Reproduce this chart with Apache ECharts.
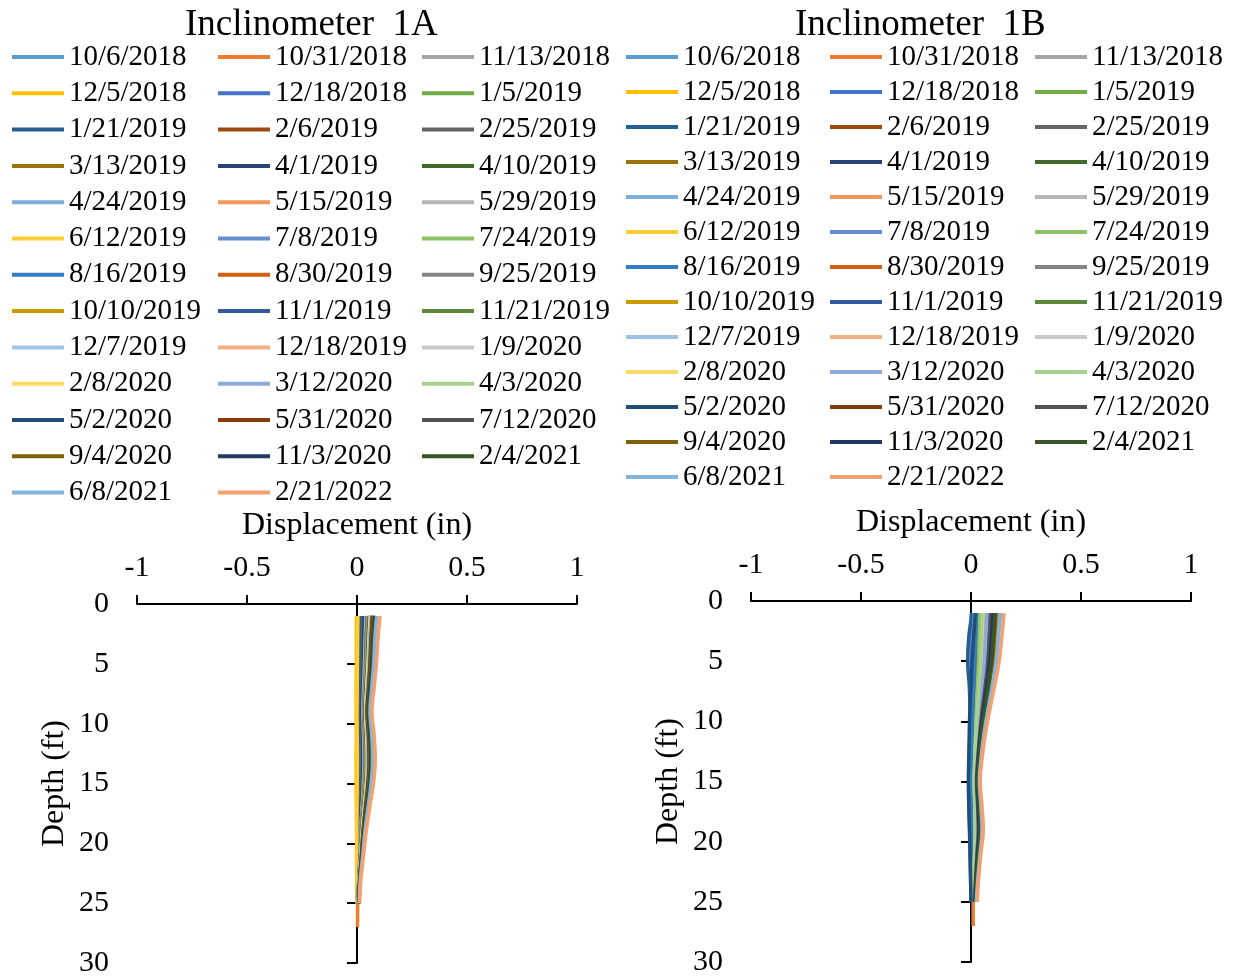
<!DOCTYPE html>
<html><head><meta charset="utf-8">
<script src="https://cdn.jsdelivr.net/npm/echarts@6/dist/echarts.min.js"></script>
<style>html,body{margin:0;padding:0;background:#fff}#c{width:1237px;height:979px}</style>
</head><body><div id="c"></div>
<script>
const dates = ['10/6/2018','10/31/2018','11/13/2018','12/5/2018','12/18/2018','1/5/2019',
  '1/21/2019','2/6/2019','2/25/2019','3/13/2019','4/1/2019','4/10/2019',
  '4/24/2019','5/15/2019','5/29/2019','6/12/2019','7/8/2019','7/24/2019',
  '8/16/2019','8/30/2019','9/25/2019','10/10/2019','11/1/2019','11/21/2019',
  '12/7/2019','12/18/2019','1/9/2020','2/8/2020','3/12/2020','4/3/2020',
  '5/2/2020','5/31/2020','7/12/2020','9/4/2020','11/3/2020','2/4/2021',
  '6/8/2021','2/21/2022'];
const colors = ['#5B9BD5','#ED7D31','#A5A5A5','#FFC000','#4472C4','#70AD47',
  '#255E91','#9E480E','#636363','#997300','#264478','#43682B',
  '#7CAFDD','#F1975A','#B7B7B7','#FFCD33','#698ED0','#8CC168',
  '#327DC2','#D26012','#848484','#CC9A00','#335AA1','#5A8A39',
  '#9DC3E6','#F4B183','#C9C9C9','#FFD966','#8FAADC','#A9D18E',
  '#1F4E79','#843C0C','#525252','#7F6000','#203864','#375623',
  '#84B3E0','#F3A26F'];
const depths = [1,3,5,7,9,11,13,15,17,19,21,23,25,27];
const xTicks = [-1,-0.5,0,0.5,1];
const depthTicks = [0,5,10,15,20,25,30];
const titles = ['Inclinometer  1A','Inclinometer  1B'];
const xName = 'Displacement (in)';
const yName = 'Depth (ft)';

const values1A = [
 [0,0,0,0,0,0,0,0,0,0,0,0,0],
 [0.010,0.009,0.008,0.007,0.006,0.007,0.008,0.007,0.006,0.005,0.004,0.003,0.003,0.002],
 [0.015,0.013,0.012,0.011,0.010,0.011,0.012,0.010,0.008,0.006,0.004,0.003,0.002],
 [-0.002,-0.003,-0.003,-0.004,-0.004,-0.003,-0.004,-0.004,-0.003,-0.002,-0.002,-0.001,0],
 [0.020,0.018,0.017,0.015,0.013,0.015,0.016,0.014,0.011,0.008,0.006,0.004,0.002],
 [0.025,0.022,0.021,0.019,0.016,0.019,0.020,0.018,0.014,0.010,0.007,0.004,0.003],
 [0.018,0.016,0.015,0.013,0.012,0.013,0.014,0.013,0.010,0.007,0.005,0.003,0.002],
 [0.030,0.027,0.025,0.022,0.020,0.022,0.024,0.021,0.017,0.012,0.009,0.005,0.003],
 [0.028,0.025,0.024,0.021,0.018,0.021,0.022,0.020,0.015,0.011,0.008,0.005,0.003],
 [0.035,0.032,0.029,0.026,0.023,0.026,0.028,0.025,0.019,0.014,0.010,0.006,0.004],
 [0.033,0.030,0.028,0.024,0.021,0.025,0.027,0.024,0.018,0.013,0.010,0.006,0.004],
 [0.040,0.036,0.034,0.030,0.026,0.030,0.032,0.028,0.022,0.016,0.012,0.007,0.004],
 [0.045,0.041,0.038,0.033,0.029,0.033,0.036,0.032,0.025,0.018,0.013,0.008,0.005],
 [0.046,0.042,0.039,0.034,0.030,0.034,0.037,0.033,0.025,0.018,0.013,0.008,0.005],
 [0.041,0.037,0.034,0.030,0.027,0.030,0.032,0.029,0.023,0.016,0.012,0.007,0.005],
 [0.004,0.003,0.002,0.001,0.000,0.001,0.002,0.001,0.000,-0.001,-0.001,0,0],
 [0.050,0.045,0.042,0.037,0.032,0.037,0.040,0.035,0.027,0.020,0.015,0.009,0.005],
 [0.052,0.047,0.044,0.038,0.034,0.038,0.041,0.037,0.029,0.021,0.015,0.009,0.006],
 [0.046,0.041,0.039,0.034,0.030,0.034,0.036,0.033,0.025,0.018,0.013,0.008,0.005],
 [0.055,0.050,0.046,0.041,0.036,0.041,0.043,0.039,0.030,0.022,0.016,0.009,0.006],
 [0.050,0.045,0.042,0.037,0.033,0.037,0.040,0.036,0.028,0.020,0.015,0.009,0.006],
 [0.051,0.046,0.043,0.038,0.033,0.038,0.040,0.036,0.028,0.020,0.015,0.009,0.006],
 [0.056,0.050,0.047,0.041,0.036,0.041,0.044,0.040,0.031,0.022,0.016,0.010,0.006],
 [0.060,0.054,0.050,0.044,0.039,0.044,0.047,0.043,0.033,0.024,0.017,0.010,0.007],
 [0.061,0.055,0.051,0.045,0.040,0.045,0.048,0.043,0.034,0.024,0.018,0.010,0.007],
 [0.066,0.059,0.055,0.049,0.043,0.049,0.052,0.047,0.036,0.026,0.019,0.011,0.007],
 [0.060,0.054,0.050,0.044,0.039,0.044,0.047,0.043,0.033,0.024,0.017,0.010,0.007],
 [0.062,0.056,0.052,0.046,0.040,0.046,0.049,0.044,0.034,0.025,0.018,0.011,0.007],
 [0.065,0.058,0.055,0.048,0.042,0.048,0.051,0.046,0.036,0.026,0.019,0.011,0.007],
 [0.067,0.060,0.056,0.050,0.044,0.050,0.053,0.048,0.037,0.027,0.019,0.011,0.007],
 [0.070,0.063,0.059,0.052,0.046,0.052,0.055,0.050,0.039,0.028,0.020,0.012,0.008],
 [0.071,0.064,0.060,0.053,0.046,0.053,0.056,0.050,0.039,0.028,0.021,0.012,0.008],
 [0.075,0.068,0.063,0.056,0.049,0.056,0.059,0.053,0.041,0.030,0.022,0.013,0.008],
 [0.076,0.068,0.064,0.056,0.049,0.056,0.060,0.054,0.042,0.030,0.022,0.013,0.008],
 [0.080,0.072,0.067,0.059,0.052,0.059,0.063,0.057,0.044,0.032,0.023,0.014,0.009],
 [0.082,0.074,0.069,0.061,0.053,0.061,0.065,0.058,0.045,0.033,0.024,0.014,0.009],
 [0.090,0.081,0.076,0.067,0.059,0.067,0.071,0.064,0.050,0.036,0.026,0.015,0.010],
 [0.105,0.095,0.088,0.078,0.068,0.078,0.083,0.075,0.058,0.042,0.030,0.018,0.012]
];

const values1B = [
 [0,0,0,0,0,0,0,0,0,0,0,0,0],
 [0.012,0.011,0.010,0.009,0.008,0.007,0.006,0.006,0.007,0.008,0.008,0.009,0.010,0.010],
 [0.020,0.018,0.016,0.014,0.011,0.009,0.007,0.006,0.007,0.008,0.007,0.005,0.004],
 [0.030,0.027,0.024,0.020,0.016,0.012,0.009,0.007,0.008,0.009,0.007,0.005,0.004],
 [0.010,0.006,0.003,0.000,-0.003,-0.005,-0.008,-0.010,-0.009,-0.006,-0.004,-0.002,0.000],
 [0.040,0.036,0.032,0.027,0.021,0.016,0.013,0.011,0.013,0.014,0.012,0.009,0.007],
 [0.005,-0.010,-0.015,-0.008,-0.004,-0.002,-0.001,-0.003,-0.005,-0.004,-0.002,-0.001,0.000],
 [0.055,0.050,0.046,0.039,0.031,0.024,0.019,0.015,0.018,0.020,0.016,0.012,0.010],
 [0.035,0.032,0.028,0.024,0.019,0.015,0.012,0.010,0.011,0.012,0.010,0.008,0.006],
 [0.090,0.084,0.077,0.065,0.051,0.040,0.031,0.025,0.030,0.033,0.027,0.021,0.016],
 [0.080,0.074,0.068,0.058,0.046,0.035,0.027,0.022,0.026,0.030,0.024,0.018,0.014],
 [0.050,0.046,0.042,0.036,0.029,0.022,0.017,0.014,0.017,0.018,0.015,0.012,0.009],
 [0.110,0.102,0.094,0.079,0.063,0.048,0.037,0.031,0.036,0.041,0.033,0.025,0.020],
 [0.130,0.121,0.111,0.094,0.074,0.057,0.044,0.036,0.043,0.048,0.039,0.030,0.023],
 [0.060,0.056,0.051,0.043,0.034,0.026,0.020,0.017,0.020,0.022,0.018,0.014,0.011],
 [0.045,0.042,0.038,0.032,0.026,0.020,0.015,0.013,0.015,0.017,0.014,0.010,0.008],
 [0.015,0.010,0.006,0.003,0.000,-0.003,-0.006,-0.008,-0.007,-0.005,-0.003,-0.001,0.000],
 [0.040,0.037,0.034,0.029,0.023,0.018,0.014,0.012,0.014,0.016,0.014,0.012,0.010],
 [0.025,0.020,0.016,0.012,0.008,0.005,0.002,0.000,0.001,0.003,0.004,0.004,0.004],
 [0.085,0.079,0.072,0.061,0.048,0.037,0.029,0.024,0.028,0.031,0.026,0.020,0.015],
 [0.075,0.070,0.064,0.054,0.043,0.033,0.026,0.021,0.025,0.028,0.023,0.017,0.014],
 [0.100,0.093,0.085,0.072,0.057,0.044,0.034,0.028,0.033,0.037,0.030,0.023,0.018],
 [0.095,0.088,0.081,0.068,0.054,0.042,0.032,0.027,0.031,0.035,0.029,0.022,0.017],
 [0.065,0.060,0.055,0.047,0.037,0.029,0.022,0.018,0.021,0.024,0.020,0.016,0.013],
 [0.070,0.065,0.060,0.050,0.040,0.031,0.024,0.020,0.023,0.026,0.021,0.016,0.013],
 [0.100,0.093,0.085,0.072,0.057,0.044,0.034,0.028,0.033,0.037,0.030,0.023,0.018],
 [0.055,0.051,0.047,0.040,0.031,0.024,0.019,0.015,0.018,0.020,0.017,0.013,0.010],
 [0.060,0.056,0.051,0.043,0.034,0.026,0.020,0.017,0.020,0.022,0.018,0.014,0.011],
 [0.070,0.065,0.060,0.050,0.040,0.031,0.024,0.020,0.023,0.026,0.021,0.016,0.013],
 [0.050,0.047,0.043,0.036,0.029,0.022,0.017,0.014,0.017,0.019,0.016,0.012,0.010],
 [0.020,0.012,0.005,0.000,-0.005,-0.008,-0.010,-0.012,-0.010,-0.007,-0.004,-0.002,0.000],
 [0.105,0.098,0.089,0.076,0.060,0.046,0.036,0.029,0.035,0.039,0.032,0.024,0.019],
 [0.090,0.084,0.077,0.065,0.051,0.040,0.031,0.025,0.030,0.033,0.027,0.021,0.016],
 [0.115,0.107,0.098,0.083,0.066,0.051,0.039,0.032,0.038,0.043,0.035,0.026,0.021],
 [0.100,0.093,0.085,0.072,0.057,0.044,0.034,0.028,0.033,0.037,0.030,0.023,0.018],
 [0.110,0.102,0.094,0.079,0.063,0.048,0.037,0.031,0.036,0.041,0.033,0.025,0.020],
 [0.135,0.125,0.115,0.097,0.077,0.059,0.046,0.038,0.045,0.050,0.041,0.031,0.024],
 [0.150,0.140,0.128,0.108,0.086,0.066,0.051,0.042,0.050,0.056,0.045,0.035,0.028]
];

const FONT = 'Liberation Serif';
const FS = 29;
const TICK_FS = 30;
const NAME_FS = 32;
const chart = echarts.init(document.getElementById('c'));

const panels = [
  {grid:{left:137, top:604, width:440, height:359}, titleLeft:185, legendCols:[12,218,422], legendGap:6.3, values:values1A},
  {grid:{left:751, top:601, width:440, height:361}, titleLeft:795, legendCols:[626,830,1035], legendGap:5, values:values1B}
];

const option = {
  animation:false,
  backgroundColor:'#fff',
  title:[], legend:[], grid:[], xAxis:[], yAxis:[], series:[]
};

panels.forEach((p, k) => {
  option.title.push({text:titles[k], left:p.titleLeft, top:7, padding:0,
    textStyle:{fontFamily:FONT, fontSize:37, fontWeight:'normal', color:'#000'}});
  for (let c = 0; c < 3; c++) {
    option.legend.push({
      orient:'vertical', left:p.legendCols[c], top:42, padding:0,
      itemWidth:52, itemHeight:4, itemGap:p.legendGap, icon:'rect', selectedMode:false,
      textStyle:{fontFamily:FONT, fontSize:FS, color:'#000', lineHeight:30},
      data:dates.filter((d, i) => i % 3 === c)
    });
  }
  option.grid.push(Object.assign({containLabel:false}, p.grid));
  option.xAxis.push({
    gridIndex:k, type:'value', position:'top',
    min:xTicks[0], max:xTicks[xTicks.length-1], interval:xTicks[1]-xTicks[0],
    axisLine:{onZero:false, lineStyle:{color:'#000', width:2}},
    axisTick:{show:true, inside:false, length:9, lineStyle:{color:'#000', width:2}},
    axisLabel:{fontFamily:FONT, fontSize:TICK_FS, color:'#000', margin:21},
    splitLine:{show:false},
    name:xName, nameLocation:'middle', nameGap:62,
    nameTextStyle:{fontFamily:FONT, fontSize:NAME_FS, color:'#000'}
  });
  // labels-only depth axis at the left edge of the plot
  option.yAxis.push({
    gridIndex:k, type:'value', inverse:true, position:'left',
    min:depthTicks[0], max:depthTicks[depthTicks.length-1], interval:depthTicks[1]-depthTicks[0],
    axisLine:{show:false, onZero:false}, axisTick:{show:false}, splitLine:{show:false},
    axisLabel:{fontFamily:FONT, fontSize:TICK_FS, color:'#000', margin:28},
    name:yName, nameLocation:'middle', nameGap:66, nameRotate:90,
    nameTextStyle:{fontFamily:FONT, fontSize:NAME_FS, color:'#000'}
  });
  // depth axis line with ticks, crossing at displacement 0
  option.yAxis.push({
    gridIndex:k, type:'value', inverse:true, position:'left',
    min:depthTicks[0], max:depthTicks[depthTicks.length-1], interval:depthTicks[1]-depthTicks[0],
    axisLine:{show:true, onZero:true, onZeroAxisIndex:k, lineStyle:{color:'#000', width:2}},
    axisTick:{show:true, inside:false, length:10, lineStyle:{color:'#000', width:2}},
    axisLabel:{show:false}, splitLine:{show:false}
  });
  p.values.forEach((vals, i) => {
    option.series.push({
      type:'line', name:dates[i], xAxisIndex:k, yAxisIndex:k*2,
      data:vals.map((v, j) => [v, depths[j]]),
      symbol:'none', showSymbol:false, smooth:0.4, silent:true,
      lineStyle:{width:3.5, color:colors[i]}, itemStyle:{color:colors[i]}
    });
  });
});

chart.setOption(option);
</script></body></html>
